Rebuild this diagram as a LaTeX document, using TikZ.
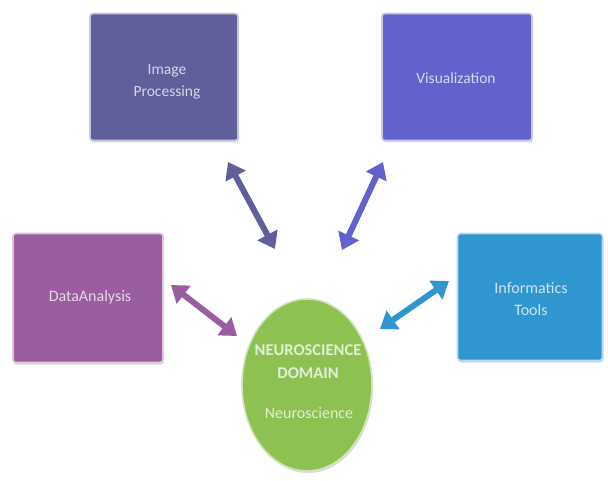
\documentclass[tikz,border=0pt]{standalone}
\usepackage{fontspec}
\setmainfont{Carlito}
\usetikzlibrary{arrows.meta,shadows,shapes.geometric}
\definecolor{cimg}{HTML}{5F5F9B}
\definecolor{cvis}{HTML}{6262CC}
\definecolor{cdat}{HTML}{9A5EA0}
\definecolor{cinf}{HTML}{2F96D0}
\definecolor{cneu}{HTML}{8DC152}
\tikzset{
  x=1pt,y=-1pt,
  boxstyle/.style={draw=#1!35!white, line width=1.6pt, fill=#1, rounded corners=3pt,
    drop shadow={opacity=0.3, shadow xshift=1pt, shadow yshift=-2pt}, inner sep=0pt},
  txt/.style={text=#1!25!white, align=center, inner sep=0pt},
  dblarrow/.style={line width=6pt, draw=#1, {Triangle[width=22pt,length=16pt]}-{Triangle[width=22pt,length=16pt]}},
}
\begin{document}
\begin{tikzpicture}
\useasboundingbox (0,0) rectangle (608,481);
\node[boxstyle=cimg, minimum width=148pt, minimum height=127pt] (img) at (164,77) {};
\node[txt=cimg, font=\fontsize{15.5}{22}\selectfont] (imgt) at (167,82) {Image\\Processing};
\node[boxstyle=cvis, minimum width=150pt, minimum height=127pt] (vis) at (457,77) {};
\node[txt=cvis, font=\fontsize{15.5}{22}\selectfont] (vist) at (456,78) {Visualization};
\node[boxstyle=cdat, minimum width=150pt, minimum height=129pt] (dat) at (88,298) {};
\node[txt=cdat, font=\fontsize{16}{19}\selectfont] (datt) at (90,297) {DataAnalysis};
\node[boxstyle=cinf, minimum width=145pt, minimum height=127pt] (inf) at (530,297) {};
\node[txt=cinf, font=\fontsize{16}{22}\selectfont] (inft) at (531,299) {Informatics\\Tools};
\node[draw=cneu!40!white, line width=1.6pt, fill=cneu, ellipse, minimum width=130pt, minimum height=172pt,
  drop shadow={opacity=0.3, shadow xshift=1pt, shadow yshift=-2pt}, inner sep=0pt] (neu) at (307,385) {};
\node[txt=cneu, font=\fontsize{16.5}{23}\selectfont\bfseries] (neut) at (308,362) {NEUROSCIENCE\\DOMAIN};
\node[txt=cneu, font=\fontsize{16}{19}\selectfont] (neus) at (309,413) {Neuroscience};
\coordinate (a1) at (228,162); \coordinate (b1) at (275,249);
\coordinate (a2) at (383,162); \coordinate (b2) at (342,250);
\coordinate (a3) at (171,285); \coordinate (b3) at (237,336);
\coordinate (a4) at (449,281); \coordinate (b4) at (380,329);
\draw[dblarrow=cimg] (a1) -- (b1);
\draw[dblarrow=cvis] (a2) -- (b2);
\draw[dblarrow=cdat] (a3) -- (b3);
\draw[dblarrow=cinf] (a4) -- (b4);
\end{tikzpicture}
\end{document}
